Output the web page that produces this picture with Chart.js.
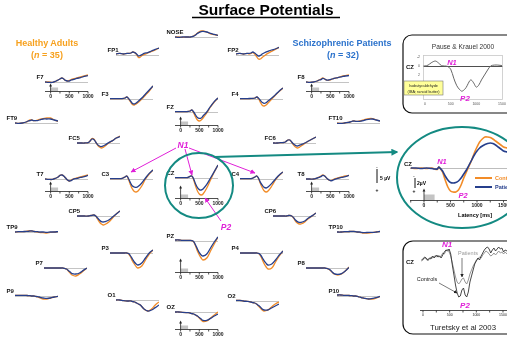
<!DOCTYPE html>
<html>
<head>
<meta charset="utf-8">
<script src="https://cdn.jsdelivr.net/npm/chart.js@4.4.1/dist/chart.umd.min.js"></script>
<style>
html, body { margin: 0; padding: 0; background: #fff; }
body { width: 507px; height: 341px; overflow: hidden; position: relative; font-family: "Liberation Sans", Arial, sans-serif; }
canvas { position: absolute; }
#ov { position: absolute; left: 0; top: 0; z-index: 5; }
#ov text { font-family: "Liberation Sans", Arial, sans-serif; }
.el { font-size: 6px; font-weight: bold; fill: #111; }
.mg { fill: #e020d8; font-weight: bold; font-style: italic; }
</style>
</head>
<body>
<svg id="ov" width="507" height="341" viewBox="0 0 507 341">
  <defs>
    <marker id="mh" viewBox="0 0 10 10" refX="9" refY="5" markerWidth="5" markerHeight="5" orient="auto"><path d="M0,0L10,5L0,10z" fill="#e020d8"/></marker>
    <marker id="th" viewBox="0 0 10 10" refX="8" refY="5" markerWidth="3.5" markerHeight="3.5" orient="auto"><path d="M0,0L10,5L0,10z" fill="#148a82"/></marker>
    <marker id="kh" viewBox="0 0 10 10" refX="9" refY="5" markerWidth="6" markerHeight="6" orient="auto"><path d="M0,0L10,5L0,10z" fill="#222"/></marker>
  </defs>

  <text x="266" y="15" text-anchor="middle" font-size="15.5" font-weight="bold">Surface Potentials</text>
  <line x1="192" y1="17.5" x2="340" y2="17.5" stroke="#000" stroke-width="1.3"/>

  <text x="47" y="46" text-anchor="middle" font-size="9" font-weight="bold" fill="#f7a11e">Healthy Adults</text>
  <text x="47" y="58" text-anchor="middle" font-size="9" font-weight="bold" fill="#f7a11e">(<tspan font-style="italic">n</tspan> = 35)</text>
  <text x="342" y="46" text-anchor="middle" font-size="9" font-weight="bold" fill="#2b72cc">Schizophrenic  Patients</text>
  <text x="343" y="58" text-anchor="middle" font-size="9" font-weight="bold" fill="#2b72cc">(<tspan font-style="italic">n</tspan> = 32)</text>

  <g id="labels"></g>

  <!-- N1 / P2 callouts -->
  <text class="mg" x="183" y="147.5" text-anchor="middle" font-size="8.5">N1</text>
  <line x1="176" y1="148" x2="131" y2="172" stroke="#e020d8" stroke-width="1" marker-end="url(#mh)"/>
  <line x1="185" y1="149" x2="192" y2="175" stroke="#e020d8" stroke-width="1" marker-end="url(#mh)"/>
  <line x1="189" y1="148" x2="255" y2="173" stroke="#e020d8" stroke-width="1" marker-end="url(#mh)"/>
  <text class="mg" x="226" y="230" text-anchor="middle" font-size="8.5">P2</text>
  <line x1="221" y1="221" x2="205" y2="198" stroke="#e020d8" stroke-width="1" marker-end="url(#mh)"/>

  <ellipse cx="199" cy="185.5" rx="34" ry="32.5" fill="none" stroke="#148a82" stroke-width="2"/>
  <line x1="214" y1="157" x2="397" y2="152" stroke="#148a82" stroke-width="2" marker-end="url(#th)"/>
  <ellipse cx="462" cy="177.5" rx="65" ry="50.5" fill="none" stroke="#148a82" stroke-width="2"/>

  <!-- 5 uV scale outside -->
  <line x1="377" y1="169" x2="377" y2="183" stroke="#111" stroke-width="1"/>
  <text x="377" y="168" text-anchor="middle" font-size="4">-</text>
  <text x="377" y="192" text-anchor="middle" font-size="5" font-weight="bold">+</text>
  <text x="380" y="180" font-size="5" font-weight="bold">5 µV</text>

  <!-- big CZ inset texts -->
  <text class="el" x="404" y="165.5">CZ</text>
  <text class="mg" x="442" y="163.5" text-anchor="middle" font-size="7.5">N1</text>
  <text class="mg" x="463" y="197.5" text-anchor="middle" font-size="7.5">P2</text>
  <line x1="415" y1="178" x2="415" y2="188" stroke="#111" stroke-width="1"/>
  <text x="414" y="177" text-anchor="middle" font-size="4">-</text>
  <text x="417" y="185" font-size="5" font-weight="bold">2µV</text>
  <text x="414" y="193" text-anchor="middle" font-size="5" font-weight="bold">+</text>
  <line x1="475" y1="178" x2="492" y2="178" stroke="#f28c28" stroke-width="2"/>
  <text x="495" y="180" font-size="5.5" font-weight="bold" fill="#f28c28">Controls</text>
  <line x1="475" y1="187" x2="492" y2="187" stroke="#263f8c" stroke-width="2"/>
  <text x="495" y="189" font-size="5.5" font-weight="bold" fill="#263f8c">Patients</text>
  <text x="475" y="217" text-anchor="middle" font-size="5.5" font-weight="bold">Latency [ms]</text>

  <!-- Pause & Krauel inset -->
  <rect x="403" y="35" width="122" height="78" rx="9" fill="none" stroke="#111" stroke-width="1.2"/>
  <text x="463" y="48.5" text-anchor="middle" font-size="6.6" fill="#333">Pause &amp; Krauel 2000</text>
  <text class="el" x="406" y="69">CZ</text>
  <text class="mg" x="452" y="64.5" text-anchor="middle" font-size="7.5">N1</text>
  <text class="mg" x="465" y="100.5" text-anchor="middle" font-size="8">P2</text>
  <rect x="404" y="81" width="39" height="14" fill="#ffff99" stroke="#777" stroke-width="0.6"/>
  <text x="423.5" y="87" text-anchor="middle" font-size="3.8" fill="#222">Isobutyraldehyde</text>
  <text x="423.5" y="92.5" text-anchor="middle" font-size="3.8" fill="#222">(IBA; rancid butter)</text>

  <!-- Turetsky inset -->
  <rect x="403" y="241" width="122" height="93" rx="10" fill="none" stroke="#111" stroke-width="1.2"/>
  <text x="463" y="330" text-anchor="middle" font-size="7.8" fill="#222">Turetsky et al 2003</text>
  <text class="el" x="406" y="264" font-size="5.5">CZ</text>
  <text class="mg" x="447" y="247" text-anchor="middle" font-size="8">N1</text>
  <text class="mg" x="465" y="308" text-anchor="middle" font-size="8">P2</text>
  <text x="468" y="255" text-anchor="middle" font-size="5.5" fill="#999">Patients</text>
  <line x1="462" y1="258" x2="462" y2="277" stroke="#222" stroke-width="0.6" marker-end="url(#kh)"/>
  <text x="427" y="281" text-anchor="middle" font-size="5.5" fill="#222">Controls</text>
  <line x1="439" y1="283" x2="457" y2="293" stroke="#222" stroke-width="0.6" marker-end="url(#kh)"/>
</svg>

<script>
// time points (ms) for the electrode panels
const T = [-150, -50, 50, 150, 200, 250, 300, 350, 400, 450, 500, 550, 600, 700, 800, 900, 1000];

// grand averages in µV, positive = plotted downward; hc = healthy adults, sz = schizophrenic patients
const hc_FP1 = [-0.5,-0.8,-0.5,-0.8,-0.8,-1,-1.5,-1.2,-0.2,1.2,1,0.2,-0.2,-1,-1.8,-2.5,-3.5];
const sz_FP1 = [-0.5,-0.8,-0.5,-0.8,-0.8,-1,-1.5,-1.2,-0.5,0.5,0.2,-0.2,-0.8,-1.2,-2,-2.8,-3.5];
const hc_NOSE = [0,0,0.2,0,0,0,-0.2,-0.5,-1.2,-2,-2.6,-3,-3,-2.5,-1.6,-1.2,-0.8];
const sz_NOSE = [0,0.2,0,0,0,0,-0.2,-0.4,-1,-1.8,-2.3,-2.7,-2.8,-2.5,-1.8,-1.3,-0.8];
const hc_FP2 = [-0.5,-0.8,-0.5,-0.8,-0.5,-0.8,-1.2,-0.5,0.8,2,2,1.2,0.5,-0.8,-1.8,-2.8,-3.8];
const sz_FP2 = [-0.5,-0.8,-0.5,-0.8,-0.8,-1,-1.5,-1,-0.2,0.5,0.2,-0.5,-1,-1.8,-2.5,-3,-3.8];
const hc_F7 = [0,0,0.2,-0.5,-1,-1.5,-2,-1.5,-0.8,-0.5,-0.8,-1.2,-1.5,-2,-2.5,-3,-3.5];
const sz_F7 = [0,0.2,0.2,-0.5,-1,-1.5,-2,-1.5,-0.8,-0.5,-0.5,-1,-1.2,-1.8,-2.2,-2.8,-3.2];
const hc_F3 = [-0.2,-0.2,-0.2,-0.2,-0.2,-0.5,-1,0,1.5,2.8,3,2.5,1.8,0,-2,-4,-6.5];
const sz_F3 = [-0.2,-0.2,-0.2,-0.2,-0.3,-0.5,-1,-0.2,1,2.2,2.5,2,1.2,-0.5,-2.5,-4.5,-6.5];
const hc_FZ = [-0.2,-0.2,-0.2,-0.2,-0.3,-0.5,-1,0.5,2.5,4,4.5,4,3,0.5,-2.5,-5,-7];
const sz_FZ = [-0.2,-0.2,-0.2,-0.2,-0.3,-0.5,-1,0,1.5,2.8,3.2,3,2,0,-2.8,-5.2,-7];
const hc_F4 = [-0.2,-0.2,-0.2,-0.2,-0.3,-0.5,-1,0,1.8,3.2,3.5,3,2,0,-2,-3.8,-5.5];
const sz_F4 = [-0.2,-0.2,-0.2,-0.3,-0.3,-0.5,-1,-0.3,0.8,1.8,2.2,1.8,1,-0.5,-2.2,-4,-5.5];
const hc_F8 = [0,0.2,0,-0.5,-1,-1.5,-2,-1.5,-1,-0.8,-1,-1.5,-1.8,-2.2,-2.8,-3.2,-3.5];
const sz_F8 = [0,0.2,0,-0.5,-1,-1.2,-1.8,-1.5,-1,-1,-1.2,-1.5,-1.8,-2.2,-2.6,-3,-3.2];
const hc_FT9 = [0,0.2,0,-0.5,-1,-1.5,-1.5,-1.2,-1.2,-1.5,-1.8,-2,-2.2,-2.5,-2.5,-1.5,-0.8];
const sz_FT9 = [0,0.2,0,-0.5,-1,-1.2,-1.5,-1.2,-1.2,-1.2,-1.5,-1.8,-2,-2,-2,-1.5,-1];
const hc_FC5 = [0,0,0,-0.2,-1,-2.2,-2,-0.5,1,2,2.5,2.2,1.5,0,-1.2,-2.5,-3.5];
const sz_FC5 = [0,0,0,-0.2,-1,-2,-1.8,-0.5,0.8,1.5,1.8,1.5,1,-0.2,-1.2,-2.5,-3.2];
const hc_FC6 = [0,0,-0.2,-0.3,-0.8,-1.5,-1.5,-0.3,1,2,2.5,2.2,1.5,0.2,-1,-2,-3];
const sz_FC6 = [0,0,-0.2,-0.3,-0.8,-1.5,-1.5,-0.5,0.5,1.2,1.5,1.2,0.8,0,-1,-2,-3];
const hc_FT10 = [0,0.2,0,-0.3,-0.5,-0.8,-1,-0.8,-0.8,-1,-1.2,-1.5,-1.8,-2.2,-2.2,-1.5,-1];
const sz_FT10 = [0.2,0.2,0,-0.3,-0.5,-0.8,-1,-0.8,-0.8,-0.8,-1,-1.2,-1.5,-1.8,-2,-1.5,-1];
const hc_T7 = [0,0.2,0.2,-0.5,-1,-1.8,-2,-1.5,-0.5,0.5,1,0.5,0,-0.5,-1,-1.5,-2];
const sz_T7 = [0,0.2,0.2,-0.5,-1,-1.8,-2,-1.5,-0.5,0.5,1,0.8,0.2,-0.3,-0.8,-1.2,-1.8];
const hc_C3 = [-0.2,-0.2,-0.2,-0.2,-0.5,-1,-1.5,0.5,3,5,6.2,6.5,6,3.5,0,-2.5,-4.5];
const sz_C3 = [-0.2,-0.2,-0.2,-0.2,-0.5,-1,-1.5,0,2,3.5,4,4.2,3.8,2,-0.5,-2.8,-4.5];
const hc_CZ = [-0.2,-0.2,-0.2,-0.2,-0.3,-0.8,-1,1,4,6.5,8,8.5,8,5,1,-3,-6.5];
const sz_CZ = [-0.2,-0.2,-0.2,-0.2,-0.3,-0.8,-1,0.5,3,4.8,5.8,6,5.5,3.2,0,-3.2,-6.5];
const hc_C4 = [-0.2,-0.2,-0.2,-0.2,-0.5,-1,-1.5,0,2.5,4.5,6,6.5,6,3.5,0.5,-1.8,-3.5];
const sz_C4 = [-0.2,-0.2,-0.2,-0.2,-0.5,-1,-1.5,-0.2,1.8,3.2,4.2,4.5,4,2.2,0,-2,-3.5];
const hc_T8 = [0,0,0,-0.5,-1,-1.5,-2,-1.5,-0.5,0.3,0.8,0.5,0,-0.5,-1,-1.5,-1.8];
const sz_T8 = [0,0,0,-0.5,-0.8,-1.2,-1.8,-1.5,-0.5,0.3,0.8,0.8,0.3,-0.3,-0.8,-1.2,-1.8];
const hc_CP5 = [0,0,0,0,-0.2,-0.3,-0.5,0,1.5,3,4,4.5,4.2,3,1,-1,-2.5];
const sz_CP5 = [0,0,0,0,-0.2,-0.3,-0.5,0,1,2,2.8,3,2.8,2,0.5,-1,-2.5];
const hc_CP6 = [0,0,0,0,0,-0.2,-0.3,0,1,2.5,3.5,4,4,3,1.2,0,-1.5];
const sz_CP6 = [0,0,0,0,0,-0.2,-0.3,0,0.8,2,2.8,3.2,3.2,2.5,1,-0.2,-1.5];
const hc_TP9 = [0,-0.2,-0.2,-0.3,-0.5,-0.5,-0.5,-0.3,-0.2,0,0.2,0.3,0.3,0.5,0.2,0,-0.2];
const sz_TP9 = [0,-0.2,-0.2,-0.3,-0.3,-0.5,-0.5,-0.3,-0.2,-0.2,0,0,0,0.2,0,0,-0.2];
const hc_TP10 = [0,0,-0.2,-0.2,-0.3,-0.3,-0.3,-0.2,0,0.2,0.3,0.5,0.5,0.5,0.3,0,-0.3];
const sz_TP10 = [0,0,-0.2,-0.2,-0.3,-0.3,-0.3,-0.2,0,0,0.2,0.3,0.3,0.2,0.2,0,-0.3];
const hc_P7 = [0,0,0,0,0,0,0,0,0.2,0.5,1.5,2.5,3.5,4,3,1.5,0];
const sz_P7 = [0,0,0,0,0,0,0,0,0.2,0.5,1.2,2,2.8,3,2.5,1.2,0];
const hc_P3 = [0,0,0,0,0,0,0,0.5,2,4,5.5,6.8,7.5,6.5,3.5,0.5,-1.5];
const sz_P3 = [0,0,0,0,0,0,0,0.3,1.5,3,4.5,5.5,6,5,2.5,0,-1.5];
const hc_PZ = [-0.5,-0.5,-0.3,-0.3,-0.3,-0.3,-0.2,0.5,2.5,5,7,8.5,9.5,8.5,5,1.5,-2];
const sz_PZ = [-0.5,-0.5,-0.3,-0.3,-0.3,-0.3,-0.2,0.3,2,4,5.8,7,7.5,6.5,3.5,0.5,-2];
const hc_P4 = [0,0,0,0,0,0,0,0.3,1.5,3.5,5.5,7,8,7.5,4.5,1.5,-1];
const sz_P4 = [0,0,0,0,0,0,0,0.2,1,2.5,4,5.2,6,5.5,3.5,1,-1];
const hc_P8 = [0,0,0,0,0,0,0,0,0.2,0.5,1.2,2.2,3,3.5,3,1.5,-0.5];
const sz_P8 = [0,0,0,0,0,0,0,0,0.2,0.5,1,2,2.8,3.2,2.8,1.5,-0.3];
const hc_P9 = [-0.3,-0.3,-0.3,-0.3,-0.2,-0.2,0,0,0.2,0.5,0.8,1.2,1.5,1.5,1,0.5,0.2];
const sz_P9 = [-0.3,-0.3,-0.3,-0.3,-0.2,-0.2,0,0,0.2,0.3,0.5,0.8,1,1.2,1,0.5,0.2];
const hc_P10 = [-0.5,-0.5,-0.3,-0.3,-0.2,-0.2,0,0,0.2,0.5,0.8,1,1.2,1.5,1.5,1,0.3];
const sz_P10 = [-0.5,-0.5,-0.3,-0.3,-0.2,-0.2,0,0,0.2,0.5,0.8,1,1.2,1.5,1.2,0.8,0.2];
const hc_O1 = [0,0,0.3,0.5,0.5,0.5,0.8,1,1.5,2,2.5,3.5,4.5,5.5,4.5,2.5,1];
const sz_O1 = [0,0,0.3,0.5,0.5,0.5,0.8,1,1.5,2,2.5,3.5,4.5,5.5,5,3.8,2.5];
const hc_OZ = [0,0,0.2,0.3,0.3,0.5,0.8,1,1.5,2.2,3,4,4.8,4.5,3,1.5,0];
const sz_OZ = [0,0,0.2,0.3,0.3,0.5,0.8,1,1.5,2,2.8,3.5,4.2,4.2,3.2,2,1];
const hc_O2 = [-0.3,-0.3,0,0.2,0.3,0.5,0.8,1,1.5,2.5,3.5,4.5,5,4.5,3,1.5,0.5];
const sz_O2 = [-0.3,-0.3,0,0.2,0.3,0.5,0.8,1,1.5,2.2,3,4,4.5,4.5,3.5,2.5,1.5];

// enlarged CZ (longer epoch)
const T_CZ = [-250,-150,-50,50,150,200,250,280,300,350,400,450,500,550,600,650,700,750,800,850,900,950,1000,1050,1100,1150,1200,1250,1300,1350,1400,1450,1500,1570];
const hc_CZlong = [0,0.1,0,0.1,0,0.2,0.3,-0.2,0,0.8,2.4,3.8,4.6,4.8,4.8,4.4,3.4,2,0.8,-0.4,-1.6,-3,-4.2,-5.2,-5.8,-6.2,-6.2,-6.1,-5.8,-5.4,-5,-4.6,-4.2,-4];
const sz_CZlong = [0,0,0.1,0,0.1,0.2,0.2,-0.2,0,0.6,1.6,2.4,2.9,3,2.9,2.6,2,1.2,0.4,-0.6,-1.6,-2.6,-3.4,-4,-4.4,-4.7,-4.9,-5,-4.9,-4.6,-4.2,-3.8,-3.4,-3.2];

// Pause & Krauel 2000, CZ, isobutyraldehyde
const T_PK = [-30,0,60,120,200,260,320,380,440,500,560,620,680,720,780,820,870,900,950,1000,1050,1100,1160,1220,1280,1350,1420,1500];
const pk_IBA = [0,0,-0.2,-0.7,-1.1,-0.7,-0.1,0,0.1,0.7,2.7,4.4,5.3,5.6,5.1,4.4,3.3,3.1,3.8,4.7,4.2,3.1,2,0.9,0,-0.2,-0.2,-0.1];

// Turetsky et al 2003, CZ
const T_TU = [-30,0,30,60,90,120,150,180,210,250,280,310,340,370,400,430,460,490,520,550,580,610,640,670,700,730,760,790,820,850,880,910,940,970,1000,1030,1060,1090,1120,1150,1180,1210,1240,1270,1300,1330,1360,1390,1420,1450,1480,1510,1540,1575];
const tu_hc = [0,-0.25,-0.75,-0.5,0,-0.5,-0.25,-1,-0.5,-1.25,-0.75,-1,-0.5,-1.25,-2,-2.5,-2.25,-2.75,-1.5,1.25,3.75,6.25,8.25,9.25,9,7.5,7,8.75,9.25,8,5.5,4,2.5,1,0.25,-0.5,0,-1,-1.75,-2.5,-3,-3.25,-2.75,-1.75,-2.5,-3,-2.25,-2.75,-3.25,-2.75,-3,-2,-2.5,-2.25];
const tu_sz = [0.25,0,-0.5,-0.25,0.25,-0.25,-0.75,-0.5,-1,-0.75,-1.25,-0.75,-1,-1.75,-1.5,-2.25,-2.75,-2,-1,0.75,2.5,4.25,5.5,6,5.5,4.75,4.5,5.5,6,5,3.5,2.5,1.5,0.75,0,-0.25,-0.75,-0.5,-1.25,-1.75,-2.25,-2,-1.5,-1,-1.25,-1.75,-1.25,-1.75,-2.25,-1.75,-2,-1.5,-2,-1.5];

const TICKS = [0, 500, 1000];
const TICKS_LONG = [0, 500, 1000, 1500];

const ORANGE = '#f28c28', BLUE = '#263f8c';
const FONT = '"Liberation Sans", Arial, sans-serif';

// name, healthy, patients, plot left x, baseline y
const panels = [
  ['FP1', hc_FP1, sz_FP1, 116, 55], ['NOSE', hc_NOSE, sz_NOSE, 175, 37], ['FP2', hc_FP2, sz_FP2, 236, 55],
  ['F7', hc_F7, sz_F7, 45, 82], ['F3', hc_F3, sz_F3, 110, 99], ['FZ', hc_FZ, sz_FZ, 175, 112],
  ['F4', hc_F4, sz_F4, 240, 99], ['F8', hc_F8, sz_F8, 306, 82],
  ['FT9', hc_FT9, sz_FT9, 15, 123], ['FC5', hc_FC5, sz_FC5, 77, 143], ['FC6', hc_FC6, sz_FC6, 273, 143],
  ['FT10', hc_FT10, sz_FT10, 337, 123],
  ['T7', hc_T7, sz_T7, 45, 179], ['C3', hc_C3, sz_C3, 110, 179], ['CZ', hc_CZ, sz_CZ, 175, 178],
  ['C4', hc_C4, sz_C4, 240, 179], ['T8', hc_T8, sz_T8, 306, 179],
  ['CP5', hc_CP5, sz_CP5, 77, 216], ['CP6', hc_CP6, sz_CP6, 273, 216],
  ['TP9', hc_TP9, sz_TP9, 15, 232], ['TP10', hc_TP10, sz_TP10, 337, 232],
  ['P3', hc_P3, sz_P3, 110, 253], ['PZ', hc_PZ, sz_PZ, 175, 241], ['P4', hc_P4, sz_P4, 240, 253],
  ['P7', hc_P7, sz_P7, 44, 268], ['P8', hc_P8, sz_P8, 306, 268],
  ['P9', hc_P9, sz_P9, 15, 296], ['P10', hc_P10, sz_P10, 337, 296],
  ['O1', hc_O1, sz_O1, 116, 300], ['OZ', hc_OZ, sz_OZ, 175, 312], ['O2', hc_O2, sz_O2, 236, 301],
];
// panels with a time axis: axis y, arrow length
const axes = { F7: [91, 6], FZ: [125, 7], F8: [91, 6], T7: [191, 8], CZ: [198, 11], T8: [191, 8], PZ: [272, 12], OZ: [329, 7] };

const zeroLine = {
  id: 'zero',
  beforeDatasetsDraw(chart, args, o) {
    if (!o.color) return;
    const { ctx, chartArea: a, scales: { y } } = chart;
    const yy = Math.round(y.getPixelForValue(0)) + 0.5;
    ctx.save();
    ctx.strokeStyle = o.color;
    ctx.lineWidth = o.width || 1;
    ctx.beginPath(); ctx.moveTo(a.left, yy); ctx.lineTo(a.right, yy); ctx.stroke();
    ctx.restore();
  }
};

// time axis under a panel, with stimulus bar and onset arrow
const erpAxis = {
  id: 'erpAxis',
  afterDatasetsDraw(chart, args, o) {
    if (!o.ticks) return;
    const { ctx, chartArea: a, scales: { x } } = chart;
    const y0 = Math.round(a.bottom) + 0.5;
    const x0 = x.getPixelForValue(0);
    ctx.save();
    if (o.box) {
      ctx.fillStyle = '#c4c4c4';
      ctx.fillRect(x0, y0 - o.box, x.getPixelForValue(200) - x0, o.box);
    }
    ctx.strokeStyle = '#222'; ctx.fillStyle = '#222'; ctx.lineWidth = 0.8;
    ctx.beginPath();
    ctx.moveTo(a.left, y0); ctx.lineTo(a.right, y0);
    o.minor.forEach(t => { const p = x.getPixelForValue(t); ctx.moveTo(p, y0); ctx.lineTo(p, y0 + 2); });
    if (o.arrow) { ctx.moveTo(x0, y0); ctx.lineTo(x0, y0 - o.arrow); }
    ctx.stroke();
    if (o.arrow) {
      ctx.beginPath();
      ctx.moveTo(x0, y0 - o.arrow - 2); ctx.lineTo(x0 - 1.4, y0 - o.arrow + 1); ctx.lineTo(x0 + 1.4, y0 - o.arrow + 1);
      ctx.fill();
    }
    ctx.font = o.font; ctx.textAlign = 'center'; ctx.textBaseline = 'top';
    o.ticks.forEach(t => ctx.fillText(String(t), x.getPixelForValue(t), y0 + 3));
    ctx.restore();
  }
};

// light frame with tiny tick labels (Pause & Krauel plot)
const frame = {
  id: 'frame',
  beforeDatasetsDraw(chart, args, o) {
    if (!o.yTicks) return;
    const { ctx, chartArea: a, scales: { x, y } } = chart;
    ctx.save();
    ctx.strokeStyle = '#c8c8c8'; ctx.lineWidth = 0.8;
    ctx.strokeRect(a.left + 0.5, a.top + 0.5, a.width - 1, a.height - 1);
    ctx.fillStyle = '#555'; ctx.font = '3.5px ' + FONT;
    ctx.textAlign = 'right'; ctx.textBaseline = 'middle';
    o.yTicks.forEach(v => ctx.fillText(String(v), a.left - 3, y.getPixelForValue(v)));
    ctx.textAlign = 'center'; ctx.textBaseline = 'top';
    o.xTicks.forEach(v => ctx.fillText(String(v), x.getPixelForValue(v), a.bottom + 2));
    ctx.restore();
  }
};

function addCanvas(left, top, w, h) {
  const cv = document.createElement('canvas');
  cv.width = w; cv.height = h;
  cv.style.left = left + 'px'; cv.style.top = top + 'px';
  document.body.appendChild(cv);
  return cv;
}

function pts(ts, vals) { return ts.map((t, i) => ({ x: t, y: vals[i] })); }

function lineChart(cv, datasets, xr, yr, pad, plugOpts, tension) {
  return new Chart(cv, {
    type: 'line',
    data: { datasets },
    options: {
      responsive: false, animation: false, events: [],
      layout: { padding: pad },
      elements: { point: { radius: 0 }, line: { tension: tension } },
      scales: {
        x: { type: 'linear', min: xr[0], max: xr[1], display: false },
        y: { min: yr[0], max: yr[1], reverse: true, display: false }
      },
      plugins: Object.assign({ legend: { display: false }, tooltip: { enabled: false } }, plugOpts)
    },
    plugins: [zeroLine, erpAxis, frame]
  });
}

const labelsG = document.getElementById('labels');
let labelSvg = '';

panels.forEach(([name, hc, sz, px, base]) => {
  const ax = axes[name];
  const padL = ax ? 4 : 1, padR = ax ? 9 : 1, padB = ax ? 9 : 0;
  const below = ax ? ax[0] - base : 20;
  const cv = addCanvas(px - padL, base - 18, padL + 43 + padR, 18 + below + padB);
  lineChart(cv, [
    { data: pts(T, sz), borderColor: BLUE, borderWidth: 1.3, order: 0 },
    { data: pts(T, hc), borderColor: ORANGE, borderWidth: 1.3, order: 1 }
  ], [-150, 1000], [-9, below / 2], { left: padL, right: padR, top: 0, bottom: padB }, {
    zero: { color: '#c4c4c4' },
    erpAxis: ax ? { ticks: TICKS, minor: [0, 250, 500, 750, 1000], font: 'bold 5px ' + FONT, box: 4, arrow: ax[1] } : {}
  }, 0.4);
  labelSvg += `<text class="el" x="${px - 8.5}" y="${base - 3.3}">${name}</text>`;
});
labelsG.innerHTML = labelSvg;

// enlarged CZ inside the ellipse: 53 px per second, 5 px per µV
{
  const cv = addCanvas(410, 134, 97, 76);
  lineChart(cv, [
    { data: pts(T_CZ, sz_CZlong), borderColor: BLUE, borderWidth: 1.6, order: 0 },
    { data: pts(T_CZ, hc_CZlong), borderColor: ORANGE, borderWidth: 1.6, order: 1 }
  ], [-264, 1566], [-6.8, 6.4], { left: 0, right: 0, top: 0, bottom: 10 }, {
    zero: { color: '#bdbdbd' },
    erpAxis: { ticks: TICKS_LONG, minor: [-250, 0, 250, 500, 750, 1000, 1250, 1500], font: 'bold 5px ' + FONT, box: 6, arrow: 10 }
  }, 0.3);
}

// Pause & Krauel plot
{
  const cv = addCanvas(413, 55, 94, 51);
  lineChart(cv, [
    { data: pts(T_PK, pk_IBA), borderColor: '#666', borderWidth: 1, order: 0 }
  ], [-39, 1520], [-2.44, 7.56], { left: 10, right: 4, top: 0, bottom: 6 }, {
    zero: { color: '#222', width: 0.8 },
    frame: { yTicks: [-2, 0, 2, 4, 6], xTicks: TICKS_LONG }
  }, 0.35);
}

// Turetsky plot
{
  const cv = addCanvas(420, 244, 87, 74);
  lineChart(cv, [
    { data: pts(T_TU, tu_sz), borderColor: '#8a8a8a', borderWidth: 0.9, order: 1 },
    { data: pts(T_TU, tu_hc), borderColor: '#333', borderWidth: 0.9, order: 0 }
  ], [-56, 1575], [-4, 12.5], { left: 0, right: 0, top: 0, bottom: 8 }, {
    erpAxis: { ticks: TICKS_LONG, minor: [0, 250, 500, 750, 1000, 1250, 1500], font: '3.5px ' + FONT, box: 0, arrow: 0 }
  }, 0);
}
</script>
</body>
</html>
